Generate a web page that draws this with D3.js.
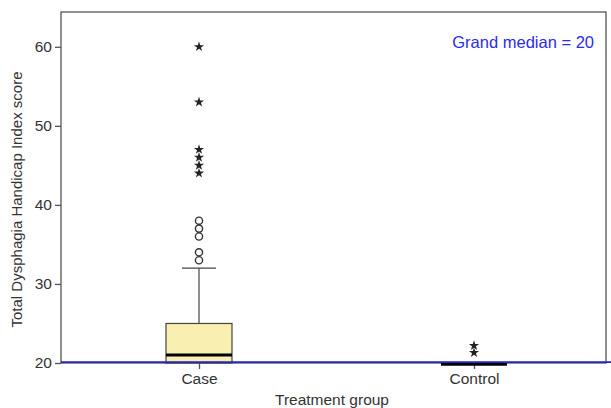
<!DOCTYPE html>
<html><head><meta charset="utf-8">
<script src="https://cdn.jsdelivr.net/npm/d3@7"></script>
<style>body{margin:0;background:#fff}svg{display:block}text{font-family:"Liberation Sans",Arial,sans-serif}</style>
</head><body>
<svg id="c" width="611" height="408"></svg>
<script>
const categories = ["Case", "Control"];
const q1 = [20, 20];
const medians = [21, 20];
const q3 = [25, 20];
const whiskerLow = [20, 20];
const whiskerHigh = [32, 20];
const circleOutliers = [[33, 34, 36, 37, 38], []];
const starOutliers = [[44, 45, 46, 47, 53, 60], [21.3, 22.2]];
const yTicks = [20, 30, 40, 50, 60];
const grandMedian = 20;

const svg = d3.select("#c");
const L = 61, R = 606, T = 12, B = 363;
const y = d3.scaleLinear().domain([20, 64.4]).range([B, T]);
const x = d3.scalePoint().domain(categories).range([199, 474]);
const bw = 66;

// frame
svg.append("rect").attr("x", L).attr("y", T).attr("width", R - L).attr("height", B - T)
  .attr("fill", "none").attr("stroke", "#555").attr("stroke-width", 1.3);

// y axis
const yAx = svg.append("g").attr("transform", `translate(${L},0)`)
  .call(d3.axisLeft(y).tickValues(yTicks).tickSize(6).tickPadding(3));
yAx.select(".domain").remove();
yAx.selectAll("line").attr("stroke", "#555").attr("stroke-width", 1.3);
yAx.selectAll("text").attr("font-size", 15.5).attr("fill", "#333");

// x axis
const xAx = svg.append("g").attr("transform", `translate(0,${B})`)
  .call(d3.axisBottom(x).tickSize(6).tickPadding(4));
xAx.select(".domain").remove();
xAx.selectAll("line").attr("stroke", "#555").attr("stroke-width", 1.3);
xAx.selectAll("text").attr("font-size", 15.5).attr("fill", "#333");

categories.forEach((c, i) => {
  const cx = x(c);
  const g = svg.append("g");
  g.append("line").attr("x1", cx).attr("x2", cx).attr("y1", y(q3[i])).attr("y2", y(whiskerHigh[i]))
    .attr("stroke", "#444").attr("stroke-width", 1.2);
  if (whiskerHigh[i] > q3[i]) {
    g.append("line").attr("x1", cx - 17).attr("x2", cx + 17).attr("y1", y(whiskerHigh[i])).attr("y2", y(whiskerHigh[i]))
      .attr("stroke", "#444").attr("stroke-width", 1.2);
  }
  g.append("rect").attr("x", cx - bw / 2).attr("y", y(q3[i])).attr("width", bw)
    .attr("height", Math.max(0, y(q1[i]) - y(q3[i])))
    .attr("fill", "#f8efb0").attr("stroke", "#444").attr("stroke-width", 1.2);
  const my = y(medians[i]) + (medians[i] === grandMedian ? 1.2 : 0);
  g.append("line").attr("x1", cx - bw / 2).attr("x2", cx + bw / 2).attr("y1", my).attr("y2", my)
    .attr("stroke", "#000").attr("stroke-width", 3);
  g.selectAll(".oc").data(circleOutliers[i]).join("circle")
    .attr("cx", cx).attr("cy", d => y(d)).attr("r", 3.6)
    .attr("fill", "none").attr("stroke", "#333").attr("stroke-width", 1.4);
  g.selectAll(".os").data(starOutliers[i]).join("path")
    .attr("transform", d => `translate(${cx},${y(d)})`)
    .attr("d", d3.symbol(d3.symbolStar, 32)).attr("fill", "#222");
});

// grand median line
svg.append("line").attr("x1", L).attr("x2", R + 5).attr("y1", y(grandMedian) - 0.8).attr("y2", y(grandMedian) - 0.8)
  .attr("stroke", "#2323c8").attr("stroke-width", 1.8);

svg.append("text").attr("x", 594).attr("y", 48).attr("text-anchor", "end")
  .attr("font-size", 16.5).attr("fill", "#2b2bf0").text("Grand median = " + grandMedian);

svg.append("text").attr("x", 332).attr("y", 405).attr("text-anchor", "middle")
  .attr("font-size", 15.5).attr("fill", "#333").text("Treatment group");

svg.append("text").attr("transform", `translate(22,${(T + B) / 2 + 12}) rotate(-90)`).attr("text-anchor", "middle")
  .attr("font-size", 15).attr("fill", "#333").text("Total Dysphagia Handicap Index score");
</script>
</body></html>
